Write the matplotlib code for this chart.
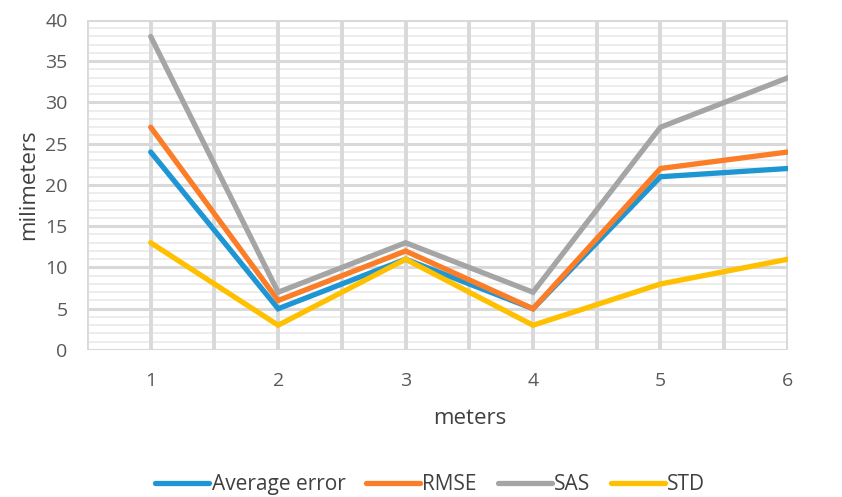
import numpy as np
import matplotlib.pyplot as plt
from matplotlib.ticker import MultipleLocator

plt.rcParams['font.family'] = ['Open Sans', 'DejaVu Sans']

# Data
meters = [1, 2, 3, 4, 5, 6]
avg_error = [24, 5, 11, 5, 21, 22]
rmse = [27, 6, 12, 5, 22, 24]
sas = [38, 7, 13, 7, 27, 33]
std = [13, 3, 11, 3, 8, 11]

series = [
    ('Average error', avg_error, '#1f96d4'),
    ('RMSE', rmse, '#fb7d28'),
    ('SAS', sas, '#a5a5a5'),
    ('STD', std, '#ffc000'),
]

fig = plt.figure(figsize=(8.42, 4.97), dpi=100)
ax = fig.add_axes([0.1033, 0.2958, 0.8325, 0.664])

# grid: minor every 1, major every 5 on y; vertical every half unit
ax.set_xlim(0.5, 6.0)
ax.set_ylim(0, 40)
ax.yaxis.set_major_locator(MultipleLocator(5))
ax.yaxis.set_minor_locator(MultipleLocator(1))
ax.grid(True, which='minor', axis='y', color='#ededed', linewidth=1.4)
ax.grid(True, which='major', axis='y', color='#d9d9d9', linewidth=2.2)
ax.set_axisbelow(True)
for xv in np.arange(0.5, 6.01, 0.5):
    ax.axvline(xv, color='#d9d9d9', linewidth=2.8, zorder=1)

for name, vals, col in series:
    ax.plot(meters, vals, color=col, linewidth=3.8, label=name,
            solid_capstyle='round', solid_joinstyle='miter', zorder=3)

for s in ax.spines.values():
    s.set_visible(False)

ax.tick_params(which='both', length=0, labelsize=14, labelcolor='#595959')
ax.tick_params(axis='x', pad=16)
ax.tick_params(axis='y', pad=14)
ax.set_xticks(meters)

ax.set_xlabel('meters', fontsize=16, color='#404040')
ax.xaxis.set_label_coords(0.546, -0.175)
ax.set_ylabel('milimeters', fontsize=16, color='#404040', labelpad=4)

fig.legend(loc='center', bbox_to_anchor=(0.511, 0.025), ncol=4, frameon=False,
           fontsize=15, handlelength=2.6, handletextpad=0.1, columnspacing=1.0,
           labelcolor='#404040')

fig.savefig('out.png', dpi=100)
